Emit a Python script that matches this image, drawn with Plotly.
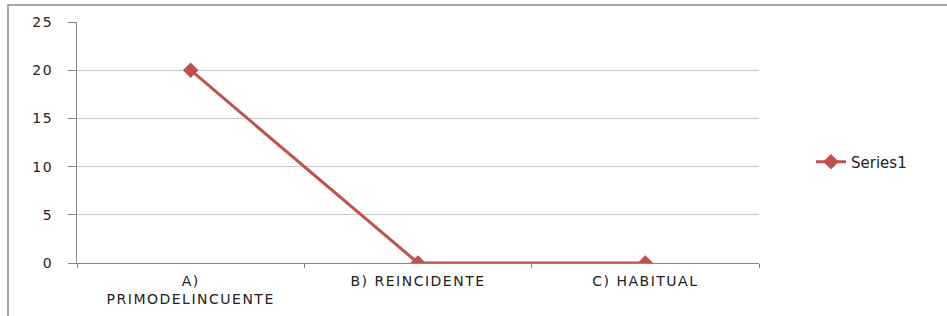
import plotly.graph_objects as go

categories = ["A) PRIMODELINCUENTE", "B) REINCIDENTE", "C) HABITUAL"]
tick_labels = ["A)<br>PRIMODELINCUENTE", "B) REINCIDENTE", "C) HABITUAL"]
series1 = [20, 0, 0]
series_name = "Series1"

W, H = 947, 316
ml, mr, mt, mb = 77, 188, 22, 53
pw, ph = W - ml - mr, H - mt - mb

fig = go.Figure()
fig.add_trace(go.Scatter(
    x=categories, y=series1, name=series_name, mode="lines+markers",
    line=dict(color="#C0504D", width=3),
    marker=dict(symbol="diamond", size=12, color="#C0504D"),
    showlegend=True,
))

font = dict(family="DejaVu Sans", size=14, color="#222222")

fig.update_layout(
    width=W, height=H,
    margin=dict(l=ml, r=mr, t=mt, b=mb),
    paper_bgcolor="white", plot_bgcolor="white",
    font=font,
    showlegend=True,
    legend=dict(x=(811 - ml) / pw, y=(263 - 162) / ph, xanchor="left", yanchor="middle",
                font=dict(family="DejaVu Sans", size=15, color="#222222"),
                bgcolor="rgba(0,0,0,0)"),
    xaxis=dict(
        type="category", tickmode="array", tickvals=categories, ticktext=tick_labels,
        range=[-0.5, 2.5], tickson="boundaries", ticks="outside", ticklen=4,
        tickcolor="#888888", showline=True, linecolor="#888888", linewidth=1,
        showgrid=False, zeroline=False, tickfont=font, ticklabelstandoff=5,
        automargin=False,
    ),
    yaxis=dict(
        range=[0, 25], dtick=5, ticks="outside", ticklen=8, tickcolor="#888888",
        showline=True, linecolor="#888888", linewidth=1,
        showgrid=True, gridcolor="#C8C8C8", gridwidth=1, zeroline=False,
        tickfont=font, ticklabelstandoff=12, automargin=False,
    ),
    shapes=[dict(
        type="rect", xref="paper", yref="paper",
        x0=(8 - ml) / pw, x1=(W + 20 - ml) / pw,
        y0=-(mb + 20) / ph, y1=(263 - 5) / ph,
        line=dict(color="#8c8c8c", width=1.5), fillcolor="rgba(0,0,0,0)", layer="below",
    )],
)

post = (
    "document.body.style.margin='0';"
    "var s=document.createElement('style');"
    "s.textContent='.xtick text,.ytick text{letter-spacing:1.5px;}';"
    "document.head.appendChild(s);"
)
fig.write_html("out.html", post_script=post, config={"displayModeBar": False})
